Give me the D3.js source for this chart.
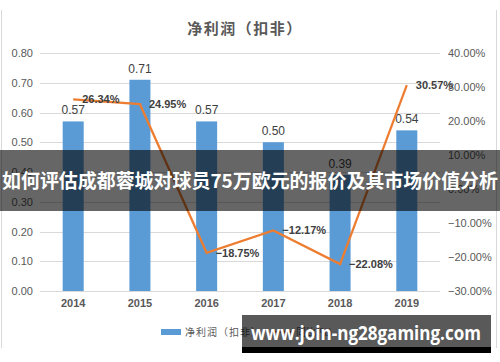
<!DOCTYPE html>
<html><head><meta charset="utf-8">
<script src="https://cdn.jsdelivr.net/npm/d3@7"></script>
<style>html,body{margin:0;padding:0;background:#fff;}svg{display:block;}</style>
</head><body>
<script>
const years = ["2014","2015","2016","2017","2018","2019"];
const profit = [0.57, 0.71, 0.57, 0.50, 0.39, 0.54];
const yoy = [26.34, 24.95, -18.75, -12.17, -22.08, 30.57];
const leftTicks = [0, 0.1, 0.2, 0.3, 0.4, 0.5, 0.6, 0.7, 0.8];
const rightTicks = [-30, -20, -10, 0, 10, 20, 30, 40];
const title = "净利润（扣非）";
const legendNames = ["净利润（扣非）", "同比(%)"];
const bannerText = "如何评估成都蓉城对球员75万欧元的报价及其市场价值分析";
const watermark = "www.join-ng28gaming.com";

const W = 500, H = 362;
const svg = d3.select("body").append("svg").attr("width", W).attr("height", H);
const numFont = "'Liberation Sans', Arial, sans-serif";
const cjkFont = "'Noto Sans CJK SC', sans-serif";

// frame
svg.append("line").attr("x1",1.5).attr("x2",1.5).attr("y1",10).attr("y2",348).attr("stroke","#d9d9d9");
svg.append("line").attr("x1",496.5).attr("x2",496.5).attr("y1",10).attr("y2",348).attr("stroke","#d9d9d9");

const x = d3.scaleBand().domain(years).range([40, 440]).paddingInner(0.685).paddingOuter(0.34);
const yL = d3.scaleLinear().domain([0, 0.8]).range([291, 53]);
const yR = d3.scaleLinear().domain([-30, 40]).range([291, 53]);

// title
svg.append("text").attr("x", 245).attr("y", 34).attr("text-anchor","middle")
  .attr("font-family", cjkFont).attr("font-size", 15).attr("font-weight", "bold")
  .attr("fill", "#595959").attr("letter-spacing", 1.5).text(title);

// gridlines
svg.append("g").selectAll("line").data(leftTicks).join("line")
  .attr("x1", 40).attr("x2", 440)
  .attr("y1", d => Math.round(yL(d)) + 0.5).attr("y2", d => Math.round(yL(d)) + 0.5)
  .attr("stroke", "#d9d9d9").attr("stroke-width", 1);

// left axis
const gl = svg.append("g").attr("transform", "translate(33,0)")
  .call(d3.axisLeft(yL).tickValues(leftTicks).tickFormat(d3.format(".2f")).tickSize(0).tickPadding(0));
gl.select(".domain").remove();
gl.selectAll("text").attr("font-family", numFont).attr("font-size", 11).attr("fill", "#595959");

// right axis
const gr = svg.append("g").attr("transform", "translate(448,0)")
  .call(d3.axisRight(yR).tickValues(rightTicks).tickFormat(d => d3.format(".2f")(d) + "%").tickSize(0).tickPadding(0));
gr.select(".domain").remove();
gr.selectAll("text").attr("font-family", numFont).attr("font-size", 11).attr("fill", "#595959");

// x axis
const gx = svg.append("g").attr("transform", "translate(0,299)")
  .call(d3.axisBottom(x).tickSize(0).tickPadding(0));
gx.select(".domain").remove();
gx.selectAll("text").attr("font-family", numFont).attr("font-size", 11).attr("font-weight", "bold").attr("fill", "#595959");

// bars
svg.append("g").selectAll("rect").data(profit).join("rect")
  .attr("x", (d,i) => x(years[i])).attr("width", x.bandwidth())
  .attr("y", d => yL(d)).attr("height", d => yL(0) - yL(d))
  .attr("fill", "#5b9bd5");
svg.append("g").selectAll("text").data(profit).join("text")
  .attr("x", (d,i) => x(years[i]) + x.bandwidth()/2).attr("y", d => yL(d) - 7)
  .attr("text-anchor", "middle").attr("font-family", numFont).attr("font-size", 12)
  .attr("fill", "#404040").text(d => d3.format(".2f")(d));

// line
const cx = i => x(years[i]) + x.bandwidth()/2;
svg.append("path").datum(yoy)
  .attr("d", d3.line().x((d,i) => cx(i)).y(d => yR(d)))
  .attr("fill", "none").attr("stroke", "#ed7d31").attr("stroke-width", 2.25);
svg.append("g").selectAll("text").data(yoy).join("text")
  .attr("x", (d,i) => cx(i) + 9).attr("y", d => yR(d) + 4)
  .attr("font-family", numFont).attr("font-size", 11).attr("font-weight", "bold")
  .attr("fill", "#404040").text(d => d3.format(".2f")(d) + "%");

// legend
svg.append("rect").attr("x", 161).attr("y", 329).attr("width", 20).attr("height", 6).attr("fill", "#5b9bd5");
svg.append("text").attr("x", 185).attr("y", 336).attr("font-family", cjkFont).attr("font-size", 10)
  .attr("fill", "#595959").attr("letter-spacing", 1).text(legendNames[0]);
svg.append("line").attr("x1", 270).attr("x2", 292).attr("y1", 332).attr("y2", 332)
  .attr("stroke", "#ed7d31").attr("stroke-width", 2.25);
svg.append("text").attr("x", 296).attr("y", 336).attr("font-family", cjkFont).attr("font-size", 10)
  .attr("fill", "#595959").text(legendNames[1]);

// banner overlay
svg.append("rect").attr("x", 0).attr("y", 150).attr("width", W).attr("height", 61)
  .attr("fill", "#000").attr("opacity", 0.6);
svg.append("text").attr("x", 250).attr("y", 188).attr("text-anchor", "middle")
  .attr("font-family", cjkFont).attr("font-size", 19).attr("font-weight", "bold")
  .attr("fill", "#fff").attr("textLength", 496).attr("lengthAdjust", "spacingAndGlyphs").text(bannerText);

// watermark box
svg.append("rect").attr("x", 242).attr("y", 315).attr("width", 249).attr("height", 38)
  .attr("fill", "#000").attr("opacity", 0.65);
svg.append("rect").attr("x", 242).attr("y", 347).attr("width", 249).attr("height", 6).attr("fill", "#000");
svg.append("text").attr("x", 366).attr("y", 340).attr("text-anchor", "middle")
  .attr("font-family", "'Open Sans', 'Noto Sans', sans-serif").attr("font-size", 20).attr("font-weight", "bold")
  .attr("fill", "#fff").attr("textLength", 230).attr("lengthAdjust", "spacingAndGlyphs").text(watermark);
</script>
</body></html>
